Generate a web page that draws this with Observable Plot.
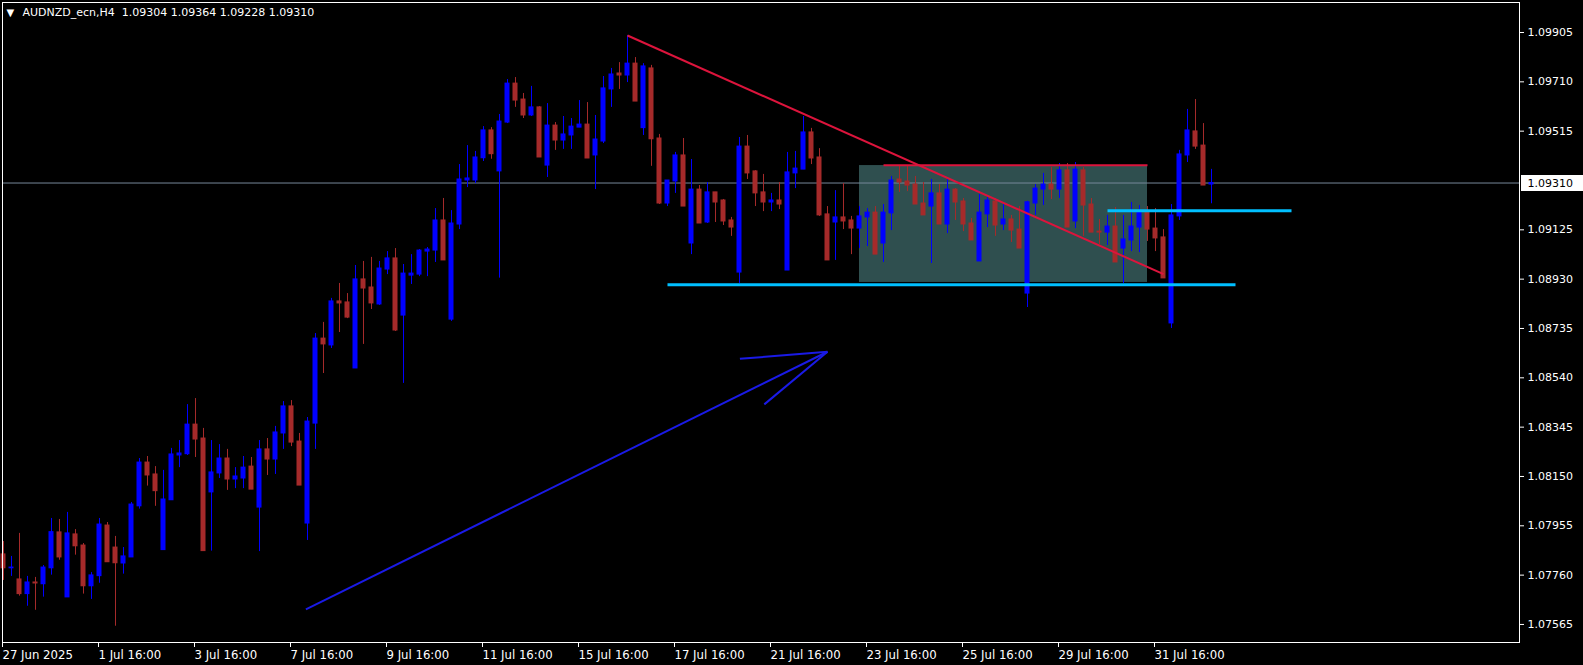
<!DOCTYPE html>
<html><head><meta charset="utf-8">
<script src="https://cdn.jsdelivr.net/npm/d3@7"></script>
<script src="https://cdn.jsdelivr.net/npm/@observablehq/plot@0.6"></script>
<style>
html,body{margin:0;padding:0;background:#000;}
#chart svg{display:block;}
#chart svg text{white-space:pre;}
</style></head><body><div id="chart"></div>
<script>
const symbol = "AUDNZD_ecn,H4";

const open = [1.07842,1.07787,1.07743,1.07685,1.07731,1.07724,1.07787,1.07929,1.07672,1.07921,
1.07877,1.07716,1.07756,1.07956,1.07869,1.07806,1.07830,1.08032,1.08205,1.08158,
1.07859,1.08056,1.08233,1.08238,1.08355,1.08300,1.08087,1.08162,1.08221,1.08138,
1.08142,1.08189,1.08027,1.08257,1.08217,1.08320,1.08427,1.08288,1.07964,1.08359,
1.08695,1.08668,1.08842,1.08838,1.08577,1.08929,1.08897,1.08830,1.08968,1.09012,
1.08786,1.08944,1.08948,1.09039,1.09043,1.09162,1.08770,1.09146,1.09320,1.09320,
1.09408,1.09518,1.09356,1.09549,1.09703,1.09640,1.09577,1.09609,1.09379,1.09537,
1.09478,1.09498,1.09529,1.09541,1.09419,1.09474,1.09680,1.09743,1.09735,1.09782,
1.09527,1.09763,1.09486,1.09229,1.09316,1.09419,1.09071,1.09284,1.09154,1.09273,
1.09241,1.09162,1.08956,1.09454,1.09356,1.09273,1.09233,1.09241,1.08964,1.09348,
1.09363,1.09510,1.09411,1.09186,1.09154,1.09174,1.09162,1.09130,1.09174,1.09193,
1.09071,1.09190,1.09324,1.09316,1.09304,1.09229,1.09217,1.09269,1.09146,1.09284,
1.09237,1.09150,1.09000,1.09186,1.09237,1.09146,1.09166,1.09126,1.08873,1.09229,
1.09284,1.09304,1.09284,1.09360,1.09158,1.09360,1.09225,1.09118,1.09114,1.09138,
1.09051,1.09083,1.09134,1.09193,1.09130,1.09095,1.08755,1.09178,1.09419,1.09514,
1.09458,1.09304];

const high = [1.07893,1.07834,1.07925,1.07755,1.07751,1.07798,1.07984,1.07980,1.08008,1.07940,
1.07885,1.07770,1.07984,1.07968,1.07913,1.07869,1.08047,1.08221,1.08229,1.08189,
1.08174,1.08261,1.08292,1.08434,1.08458,1.08340,1.08292,1.08276,1.08257,1.08185,
1.08229,1.08225,1.08292,1.08300,1.08348,1.08446,1.08450,1.08320,1.08383,1.08715,
1.08759,1.08854,1.08913,1.08873,1.08984,1.09000,1.09016,1.09000,1.09039,1.09051,
1.08988,1.09027,1.09047,1.09055,1.09209,1.09249,1.09201,1.09383,1.09458,1.09435,
1.09533,1.09529,1.09581,1.09719,1.09727,1.09664,1.09692,1.09612,1.09624,1.09549,
1.09573,1.09565,1.09636,1.09628,1.09577,1.09731,1.09763,1.09786,1.09893,1.09806,
1.09782,1.09775,1.09502,1.09320,1.09431,1.09486,1.09403,1.09300,1.09312,1.09273,
1.09245,1.09174,1.09490,1.09498,1.09359,1.09344,1.09269,1.09312,1.09431,1.09435,
1.09573,1.09526,1.09446,1.09217,1.09280,1.09308,1.09178,1.09217,1.09209,1.09217,
1.09225,1.09336,1.09379,1.09379,1.09336,1.09312,1.09324,1.09304,1.09324,1.09288,
1.09249,1.09170,1.09265,1.09253,1.09249,1.09225,1.09182,1.09217,1.09238,1.09304,
1.09348,1.09371,1.09387,1.09387,1.09391,1.09371,1.09249,1.09166,1.09182,1.09213,
1.09182,1.09233,1.09221,1.09217,1.09209,1.09126,1.09225,1.09439,1.09601,1.09640,
1.09545,1.09364];

const low = [1.07739,1.07755,1.07677,1.07637,1.07621,1.07673,1.07760,1.07819,1.07672,1.07839,
1.07685,1.07664,1.07728,1.07811,1.07558,1.07764,1.07830,1.08021,1.08112,1.08032,
1.07859,1.08056,1.08185,1.08233,1.08225,1.07855,1.07855,1.08142,1.08095,1.08102,
1.08102,1.08098,1.07853,1.08154,1.08158,1.08257,1.08268,1.08114,1.07897,1.08257,
1.08557,1.08656,1.08719,1.08774,1.08577,1.08672,1.08810,1.08826,1.08948,1.08723,
1.08518,1.08909,1.08940,1.08940,1.08996,1.09004,1.08763,1.09126,1.09292,1.09308,
1.09395,1.09404,1.08934,1.09545,1.09609,1.09565,1.09573,1.09411,1.09332,1.09439,
1.09443,1.09443,1.09529,1.09407,1.09284,1.09466,1.09609,1.09680,1.09707,1.09632,
1.09498,1.09376,1.09225,1.09217,1.09269,1.09217,1.09027,1.09150,1.09150,1.09154,
1.09142,1.09099,1.08913,1.09324,1.09217,1.09197,1.09197,1.09205,1.08964,1.09288,
1.09363,1.09383,1.09178,1.09004,1.09004,1.09126,1.09027,1.09051,1.09059,1.09027,
1.08996,1.09122,1.09273,1.09276,1.09225,1.09182,1.08992,1.09146,1.09110,1.09162,
1.09118,1.09083,1.09000,1.09134,1.09099,1.09122,1.09075,1.09051,1.08818,1.09182,
1.09221,1.09245,1.09249,1.09134,1.09130,1.09099,1.09114,1.09067,1.09063,1.08996,
1.08913,1.09039,1.09035,1.09079,1.09039,1.08933,1.08735,1.09162,1.09391,1.09443,
1.09300,1.09228];

const close = [1.07787,1.07790,1.07685,1.07731,1.07727,1.07790,1.07930,1.07830,1.07925,1.07874,
1.07716,1.07759,1.07960,1.07811,1.07807,1.07834,1.08039,1.08205,1.08154,1.08092,
1.08059,1.08237,1.08241,1.08355,1.08296,1.07855,1.08166,1.08221,1.08138,1.08150,
1.08185,1.08098,1.08257,1.08217,1.08324,1.08427,1.08284,1.08114,1.08367,1.08695,
1.08672,1.08842,1.08834,1.08778,1.08929,1.08893,1.08834,1.08972,1.09012,1.08727,
1.08952,1.08952,1.09043,1.09047,1.09162,1.09004,1.09150,1.09324,1.09328,1.09411,
1.09518,1.09424,1.09553,1.09703,1.09636,1.09577,1.09609,1.09411,1.09537,1.09478,
1.09502,1.09533,1.09541,1.09407,1.09482,1.09684,1.09739,1.09735,1.09782,1.09632,
1.09771,1.09483,1.09229,1.09320,1.09419,1.09217,1.09284,1.09150,1.09273,1.09233,
1.09158,1.09134,1.09454,1.09348,1.09269,1.09233,1.09241,1.09225,1.09352,1.09367,
1.09510,1.09407,1.09182,1.09004,1.09174,1.09158,1.09130,1.09178,1.09193,1.09027,
1.09193,1.09320,1.09312,1.09300,1.09225,1.09182,1.09269,1.09146,1.09284,1.09233,
1.09146,1.09083,1.09193,1.09241,1.09142,1.09166,1.09122,1.09051,1.09234,1.09288,
1.09304,1.09284,1.09360,1.09134,1.09363,1.09221,1.09114,1.09114,1.09138,1.08996,
1.09087,1.09138,1.09193,1.09126,1.09091,1.08933,1.09182,1.09423,1.09518,1.09454,
1.09300,1.09310];

// time axis: bar index of each labelled tick and its label
const tickBars = [0,12,24,36,48,60,72,84,96,108,120,132,144];
const tickLabels = ["27 Jun 2025","1 Jul 16:00","3 Jul 16:00","7 Jul 16:00","9 Jul 16:00","11 Jul 16:00",
  "15 Jul 16:00","17 Jul 16:00","21 Jul 16:00","23 Jul 16:00","25 Jul 16:00","29 Jul 16:00","31 Jul 16:00"];
// price axis tick values
const priceTicks = [1.09905,1.09710,1.09515,1.09125,1.08930,1.08735,1.08540,1.08345,1.08150,1.07955,1.07760,1.07565];

// drawn objects (bar index, price)
const trendBars = [78, 145];        const trendPrices = [1.09893, 1.08950];
const boxBars = [107, 143];         const boxPrices = [1.09379, 1.08917];
const boxTopBars = [110, 143];      const boxTopPrice = 1.09380;
const supportBars = [83, 154];      const supportPrice = 1.08908;
const resistBars = [138, 161];      const resistPrice = 1.09200;
const arrowBars = [37.8, 103.0, 92.05, 95.1];
const arrowPrices = [1.07625, 1.08643, 1.08615, 1.08435];

const bull = "#0000ff", bear = "#a52a2a";
const candles = open.map((o, i) => ({i, o, h: high[i], l: low[i], c: close[i], up: close[i] >= o}));
const last = candles[candles.length - 1];
const labelOf = new Map(tickBars.map((b, k) => [b, tickLabels[k]]));

const links = [
  {x1: trendBars[0], y1: trendPrices[0], x2: trendBars[1], y2: trendPrices[1], s: "#dc143c", w: 2},
  {x1: boxTopBars[0], y1: boxTopPrice, x2: boxTopBars[1], y2: boxTopPrice, s: "#dc143c", w: 2},
  {x1: supportBars[0], y1: supportPrice, x2: supportBars[1], y2: supportPrice, s: "#00bfff", w: 3},
  {x1: resistBars[0], y1: resistPrice, x2: resistBars[1], y2: resistPrice, s: "#00bfff", w: 3},
  {x1: arrowBars[0], y1: arrowPrices[0], x2: arrowBars[1], y2: arrowPrices[1], s: "#1a1ae6", w: 2},
  {x1: arrowBars[2], y1: arrowPrices[2], x2: arrowBars[1], y2: arrowPrices[1], s: "#1a1ae6", w: 2},
  {x1: arrowBars[3], y1: arrowPrices[3], x2: arrowBars[1], y2: arrowPrices[1], s: "#1a1ae6", w: 2}
];

const font = "'DejaVu Sans', Verdana, sans-serif";
const condensed = "'DejaVu Sans Condensed', 'Liberation Sans Narrow', 'DejaVu Sans', sans-serif";

const chart = Plot.plot({
  width: 1583, height: 665,
  marginLeft: 2, marginRight: 64, marginTop: 2, marginBottom: 23,
  style: {background: "#000", color: "#fff", fontFamily: font, fontSize: "11px", overflow: "visible"},
  x: {type: "linear", domain: [-0.125, 189.5]},
  y: {type: "linear", domain: [1.074937, 1.100236]},
  marks: [
    Plot.rect([0], {x1: () => boxBars[0], x2: () => boxBars[1], y1: () => boxPrices[0], y2: () => boxPrices[1], fill: "#2f4f4f"}),
    Plot.ruleY([last.c], {stroke: "#778899"}),
    Plot.ruleX(candles, {x: "i", y1: "l", y2: "h", stroke: d => d.up ? bull : bear}),
    Plot.rect(candles, {x1: d => d.i - 0.3125, x2: d => d.i + 0.3125, y1: "o", y2: "c",
      fill: d => d.up ? bull : bear, insetTop: -0.5, insetBottom: -0.5}),
    Plot.link(links, {x1: "x1", y1: "y1", x2: "x2", y2: "y2", stroke: d => d.s, strokeWidth: d => d.w}),
    Plot.frame({stroke: "#fff"}),
    Plot.axisY(priceTicks, {anchor: "right", tickSize: 4, tickPadding: 4, tickFormat: d => d.toFixed(5),
      fontFamily: font, fontSize: 11, stroke: "#fff"}),
    Plot.ruleY([last.c], {x1: 189.75, x2: 197.5, stroke: "#fff", strokeWidth: 16}),
    Plot.text([last.c], {y: d => d, frameAnchor: "right", dx: 8, text: d => d.toFixed(5), fill: "#000",
      textAnchor: "start", fontFamily: font, fontSize: 11}),
    Plot.axisX(tickBars, {anchor: "bottom", tickSize: 5, tickPadding: 2, textAnchor: "start", dx: -1,
      tickFormat: d => labelOf.get(d), fontFamily: condensed, fontSize: 13, stroke: "#fff"}),
    Plot.text(["\u25BC"], {frameAnchor: "top-left", dx: 4, dy: 10, lineAnchor: "middle", textAnchor: "start",
      fill: "#fff", fontFamily: font, fontSize: 10}),
    Plot.text([`${symbol}  ${last.o.toFixed(5)} ${last.h.toFixed(5)} ${last.l.toFixed(5)} ${last.c.toFixed(5)}`],
      {frameAnchor: "top-left", dx: 20, dy: 10, lineAnchor: "middle", textAnchor: "start",
       fill: "#fff", fontFamily: font, fontSize: 11})
  ]
});
document.getElementById("chart").appendChild(chart);
</script></body></html>
